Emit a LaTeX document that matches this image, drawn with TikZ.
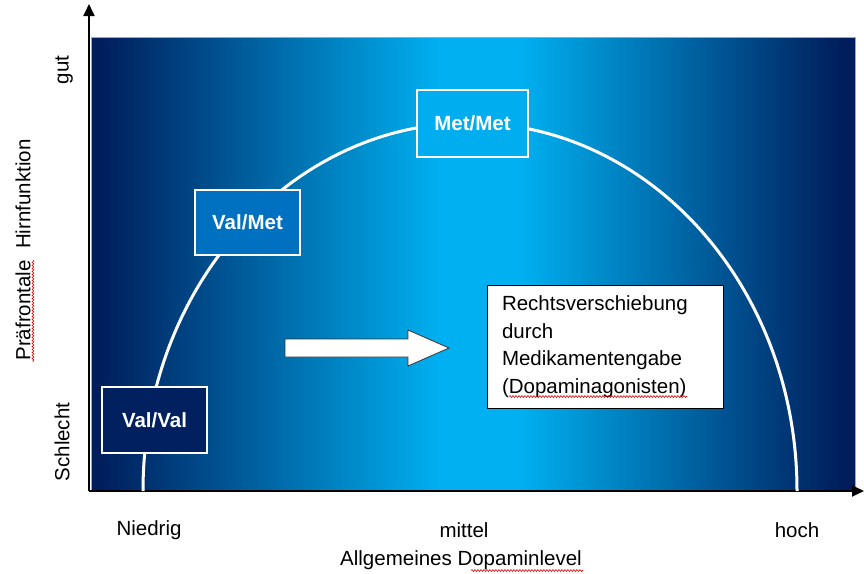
\documentclass[tikz,border=0pt]{standalone}
\usepackage{fontspec}
\setmainfont{Liberation Sans}
\usetikzlibrary{arrows.meta,decorations.pathmorphing}
\definecolor{bgA}{RGB}{0,30,92}
\definecolor{bgF}{RGB}{0,176,240}
\definecolor{edgeC}{RGB}{140,170,210}
\definecolor{metC}{RGB}{0,174,239}
\definecolor{valmetC}{RGB}{0,112,192}
\definecolor{valvalC}{RGB}{0,32,96}
\pgfdeclarehorizontalshading{dopa}{100bp}{color(0bp)=(bgA); color(25.6bp)=(bgA); color(47.8bp)=(bgF); color(53.1bp)=(bgF); color(74bp)=(bgA); color(100bp)=(bgA)}
\begin{document}
\begin{tikzpicture}[x=1pt,y=-1pt,
  geno/.style={draw=white, line width=2pt, text=white, font=\fontsize{20.5}{24}\selectfont\bfseries, inner sep=0pt},
  lbl/.style={font=\fontsize{20.5}{24}\selectfont, text=black, inner sep=0pt},
  axis/.style={line width=1.8pt, -{Triangle[length=12pt,width=11pt]}},
  squig/.style={draw=red!85!black, line width=0.6pt, decorate, decoration={snake, amplitude=0.9pt, segment length=3pt}},
]
\useasboundingbox (0,0) rectangle (864,573);
% background
\shade[shading=dopa] (91,37) rectangle (855,491);
\draw[edgeC, line width=0.8pt] (91,37) rectangle (855,491);
% axes
\coordinate (O) at (89,491);
\coordinate (Ytip) at (89,4);
\coordinate (Xtip) at (864,491);
\draw[axis] (O) -- (Ytip);
\draw[axis] (O) -- (Xtip);
% curve
\coordinate (cL) at (143,491);
\draw[white, line width=3pt] (cL) arc[start angle=180, end angle=360, x radius=327, y radius=368];
% genotype boxes
\node[geno, fill=metC, minimum width=111pt, minimum height=67pt] (metmet) at (472.5,123.5) {Met/Met};
\node[geno, fill=valmetC, minimum width=105pt, minimum height=65pt] (valmet) at (247.5,222.5) {Val/Met};
\node[geno, fill=valvalC, minimum width=105pt, minimum height=66pt] (valval) at (154.5,420) {Val/Val};
% block arrow
\draw[fill=white, draw=black!80, line width=0.8pt] (285,339) -- (408,339) -- (408,330) -- (449,348) -- (408,366) -- (408,357) -- (285,357) -- cycle;
% text box
\node[draw=black, line width=1pt, fill=white, minimum width=236pt, minimum height=123pt, text width=206pt, inner xsep=15pt, align=left, font=\fontsize{20.5}{27.5}\selectfont] (note) at (605,346.5) {Rechtsverschiebung\\durch\\Medikamentengabe\\(Dopaminagonisten)};
\draw[squig] (509,396.5) -- (687,396.5);
% y labels
\node[lbl, rotate=90] (gut) at (64,70) {gut};
\node[lbl, rotate=90] (schlecht) at (62,442) {Schlecht};
\node[lbl, rotate=90] (ylab) at (23,250) {Präfrontale\ \ Hirnfunktion};
\draw[squig] (33,260) -- (33,362);
% x labels
\node[lbl] (niedrig) at (149,530) {Niedrig};
\node[lbl] (mittel) at (464,530) {mittel};
\node[lbl] (hoch) at (797,530) {hoch};
\node[lbl] (xlab) at (461,560) {Allgemeines Dopaminlevel};
\draw[squig] (471,570.5) -- (583,570.5);
\end{tikzpicture}
\end{document}
